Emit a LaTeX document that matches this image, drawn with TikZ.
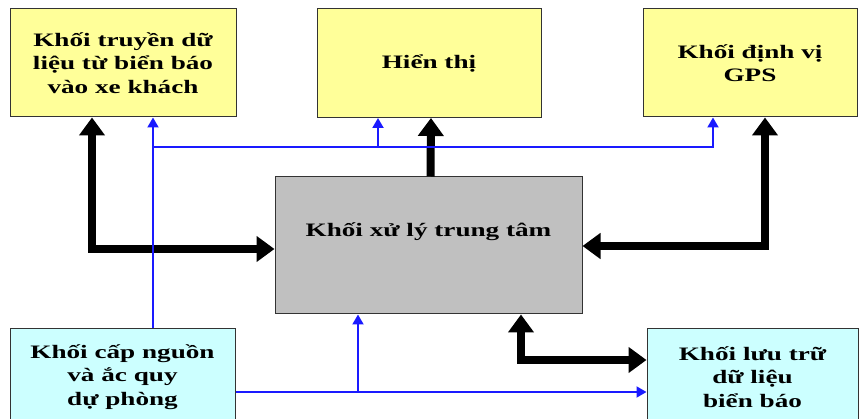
\documentclass[tikz,border=0pt]{standalone}
\usepackage{fontspec}
\setmainfont{Liberation Serif}[FakeStretch=1.43]
\usetikzlibrary{arrows.meta}
\definecolor{boxyellow}{HTML}{FFFF99}
\definecolor{boxcyan}{HTML}{CCFFFF}
\definecolor{boxgray}{HTML}{C0C0C0}
\definecolor{linkblue}{HTML}{1A1AFF}

\begin{document}
\begin{tikzpicture}[x=1pt,y=-1pt,
    block/.style={draw=black!80,line width=1pt,align=center,inner sep=0pt,
      font=\fontsize{19}{23.5}\selectfont\bfseries},
    bus/.style={line width=8pt,>={Triangle[length=18pt,width=25pt]}},
    wire/.style={draw=linkblue,line width=2pt,>={Triangle[length=10pt,width=11pt]}}]
  \useasboundingbox (0,0) rectangle (860,419);
  \node[block,fill=boxyellow,minimum width=226pt,minimum height=108pt] (T) at (123,63)
    {Khối truyền dữ\\liệu từ biển báo\\vào xe khách};
  \node[block,fill=boxyellow,minimum width=224pt,minimum height=109pt] (H) at (429,63)
    {Hiển thị};
  \node[block,fill=boxyellow,minimum width=214pt,minimum height=108pt] (G) at (750,63)
    {Khối định vị\\GPS};
  \node[block,fill=boxgray,minimum width=307pt,text height=60pt,text depth=77pt] (C) at (428.5,245.5)
    {Khối xử lý trung tâm};
  \node[block,fill=boxcyan,minimum width=225pt,minimum height=96pt] (P) at (122.5,377)
    {Khối cấp nguồn\\và ắc quy\\dự phòng};
  \node[block,fill=boxcyan,minimum width=211pt,minimum height=96pt] (M) at (752.5,377)
    {Khối lưu trữ\\dữ liệu\\biển báo};

  \coordinate (lb) at (92,249);
  \coordinate (rb) at (765,246);
  \coordinate (bb) at (521,360);
  \draw[bus,<->] (T.south -| lb) -- (lb) -- (lb -| C.west);
  \draw[bus,->] ([xshift=2pt]C.north) -- ([xshift=2pt]H.south);
  \draw[bus,<->] (G.south -| rb) -- (rb) -- (rb -| C.east);
  \draw[bus,<->] (C.south -| bb) -- (bb) -- (bb -| M.west);

  \coordinate (wl) at (153,147);
  \coordinate (wh) at (378,147);
  \coordinate (wr) at (713,147);
  \coordinate (wb) at (358,392);
  \draw[wire,->] (P.north -| wl) -- (T.south -| wl);
  \draw[wire,->] (wl) -- (wr) -- (G.south -| wr);
  \draw[wire,->] (wh) -- (H.south -| wh);
  \draw[wire,->] (P.east |- wb) -- (M.west |- wb);
  \draw[wire,->] (wb) -- (C.south -| wb);
\end{tikzpicture}
\end{document}
